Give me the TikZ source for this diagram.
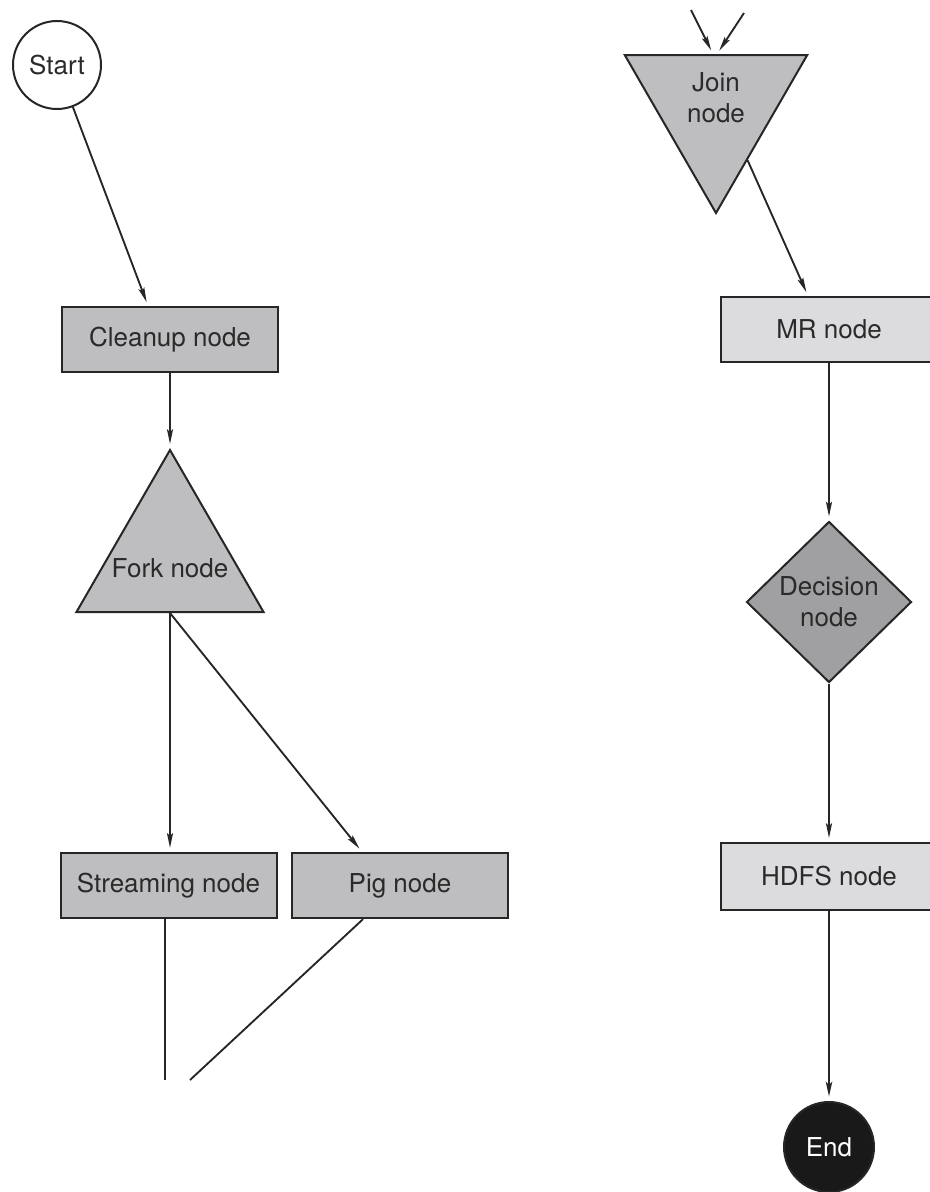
\documentclass[tikz,border=0pt]{standalone}
\usepackage{fontspec}
\setmainfont{TeX Gyre Heros}
\usetikzlibrary{shapes.geometric,arrows.meta,calc}
\definecolor{edge}{HTML}{262626}
\definecolor{midgray}{HTML}{BEBEC1}
\definecolor{palegray}{HTML}{DCDCDE}
\definecolor{deepgray}{HTML}{A0A0A2}
\definecolor{ink}{HTML}{2A2A2A}
\begin{document}
\begin{tikzpicture}[x=0.75pt,y=-0.75pt,
  every node/.style={font=\fontsize{19.5}{23}\selectfont, text=ink},
  outline/.style={draw=edge, line width=1.5pt, inner sep=0pt},
  taskbox/.style={outline, rectangle, minimum width=162pt, minimum height=49pt},
  midbox/.style={taskbox, fill=midgray},
  palebox/.style={taskbox, fill=palegray},
  trinode/.style={outline, fill=midgray, regular polygon, regular polygon sides=3},
  label/.style={align=center, inner sep=0pt},
  flow/.style={draw=edge, line width=1.4pt,
    -{Stealth[length=11pt,width=4.5pt,inset=2pt]}, shorten >=3pt},
  open/.style={draw=edge, line width=1.4pt}
]
\useasboundingbox (0,0) rectangle (929,1192);

% left column
\node[outline, circle, fill=white, minimum size=66pt] (start) at (57,65) {Start};
\node[midbox] (cleanup) at (170,339.5) {Cleanup node};
\node[trinode, minimum size=162pt] (fork) at (170,558) {};
\node[label] (forktext) at (170,568) {Fork node};
\node[midbox] (streaming) at (168.5,885.5) {Streaming node};
\node[midbox] (pig) at (400,885.5) {Pig node};
\coordinate (streamout) at (165,1080);
\coordinate (pigout) at (190,1080);

% right column
\coordinate (inA) at (691,10);
\coordinate (inB) at (744,13);
\node[trinode, minimum size=158pt, shape border rotate=180] (join) at (716,107.7) {};
\node[label] (jointext) at (716,97.5) {Join\\node};
\node[palebox] (mr) at (829,329.5) {MR node};
\node[outline, diamond, fill=deepgray, minimum width=123.75pt,
      minimum height=120.75pt, align=center] (decision) at (829,602) {Decision\\node};
\node[palebox, minimum height=50.25pt] (hdfs) at (829,876.5) {HDFS node};
\node[outline, circle, fill=black!90, minimum size=67.5pt, text=white] (end) at (829,1147) {End};

% connectors
\draw[flow] (start) -- ($(cleanup.north)+(-22,0)$);
\draw[flow] (cleanup.south) -- (fork.corner 1);
\draw[flow] (fork.side 2) -- (fork.side 2 |- streaming.north);
\draw[flow] (fork.side 2) -- ($(pig.north)+(-38,0)$);
\draw[open] (streaming.south -| streamout) -- (streamout);
\draw[open] ($(pig.south)+(-37,0)$) -- (pigout);

\draw[flow] (inA) -- ($(join.side 2)+(-3,0)$);
\draw[flow] (inB) -- ($(join.side 2)+(1,0)$);
\draw[flow] ($(join.corner 1)!0.34!(join.corner 2)$) -- ($(mr.north)+(-21,0)$);
\draw[flow] (mr.south) -- (decision.north);
\draw[flow] (decision.south) -- (hdfs.north);
\draw[flow, line width=2.2pt] (hdfs.south) -- (end.north);
\end{tikzpicture}
\end{document}
